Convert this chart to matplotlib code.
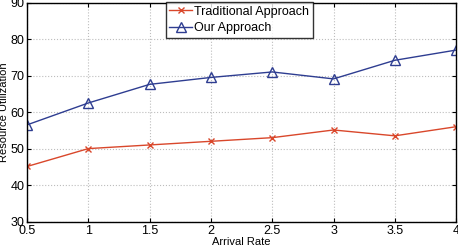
import numpy as np
import matplotlib
matplotlib.use('Agg')
import matplotlib.pyplot as plt

plt.rcParams['font.family'] = ['Liberation Sans', 'DejaVu Sans']

arrival_rate = [0.5, 1, 1.5, 2, 2.5, 3, 3.5, 4]
traditional = [45.2, 50.1, 51.1, 52.1, 53.1, 55.2, 53.6, 56.1]
ours = [56.6, 62.6, 67.7, 69.6, 71.1, 69.2, 74.3, 77.1]

fig = plt.figure(figsize=(4.58, 2.48), dpi=100)
ax = fig.add_axes((0.059, 0.105, 0.937, 0.883))

ax.plot(arrival_rate, traditional, color='#d9472b', lw=1.0, marker='x', ms=5,
        mew=1.0, label='Traditional Approach')
ax.plot(arrival_rate, ours, color='#2e3d91', lw=1.0, marker='^', ms=7,
        mfc='none', mew=1.0, label='Our Approach')

ax.set_xlim(0.5, 4)
ax.set_ylim(30, 90)
ax.set_xticks([0.5, 1, 1.5, 2, 2.5, 3, 3.5, 4])
ax.set_xticklabels(['0.5', '1', '1.5', '2', '2.5', '3', '3.5', '4'])
ax.set_yticks(range(30, 91, 10))
ax.tick_params(direction='in', labelsize=9, length=3, pad=2, top=True, right=True)
ax.grid(True, color='#bdbdbd', ls=':', lw=0.8)
for s in ax.spines.values():
    s.set_linewidth(1.0)

ax.set_xlabel('Arrival Rate', fontsize=8, labelpad=0)
ax.set_ylabel('Resource Utilization', fontsize=8, labelpad=1)

leg = ax.legend(loc='upper center', bbox_to_anchor=(0.495, 1.005), fontsize=9,
                frameon=True, fancybox=False, edgecolor='black', borderpad=0.3,
                handlelength=1.8, handletextpad=0.2, labelspacing=0.35, borderaxespad=0)
leg.get_frame().set_linewidth(1.0)

fig.savefig('out.png', dpi=100)
